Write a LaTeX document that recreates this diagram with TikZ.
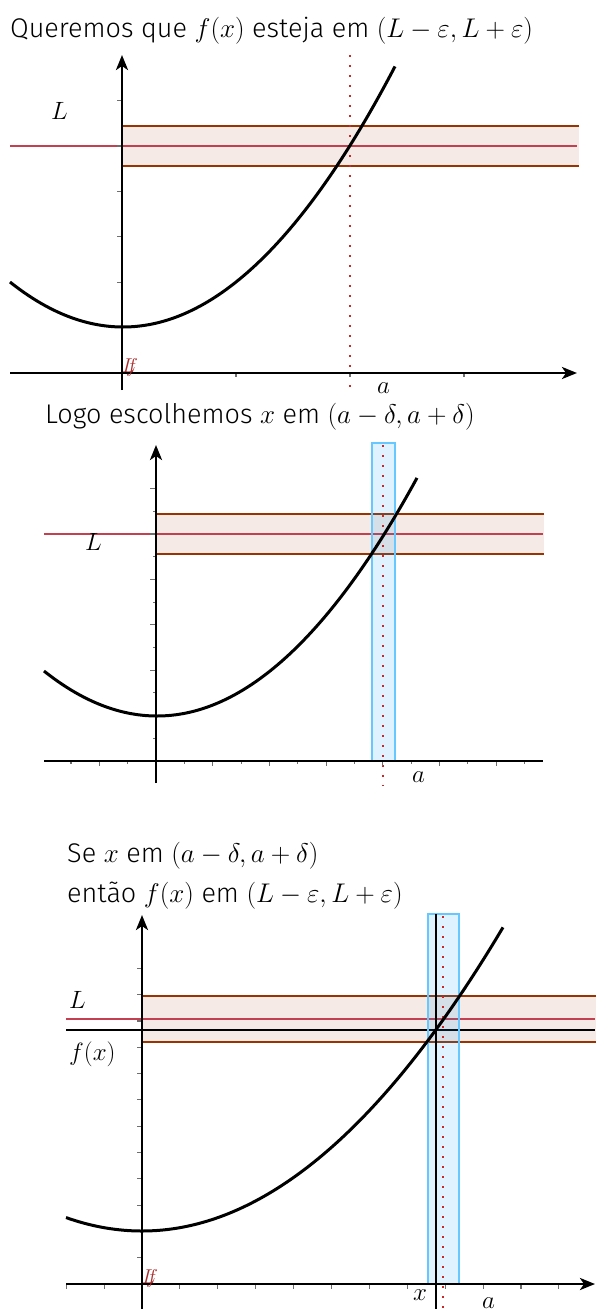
\RequirePackage{fix-cm}
\documentclass[tikz,border=0pt]{standalone}
\usepackage[no-math]{fontspec}
\setmainfont{Fira Sans}[UprightFont={* Light}]
\usetikzlibrary{arrows.meta}
\definecolor{bandc}{RGB}{153,51,0}
\definecolor{redl}{RGB}{196,64,80}
\definecolor{bluef}{RGB}{0,153,255}
\definecolor{blueb}{RGB}{102,200,255}
\definecolor{dotc}{RGB}{200,40,40}
\definecolor{origc}{RGB}{170,45,45}
\definecolor{tickc}{RGB}{110,110,110}
\begin{document}
\begin{tikzpicture}[x=1pt,y=-1pt,
  axisline/.style={line width=2.8pt, black},
  axisarrow/.style={axisline, -{Stealth[length=15pt,width=12pt,inset=4pt]}},
  curve/.style={line width=3pt, black},
  bandfill/.style={fill=bandc, fill opacity=0.1},
  bandline/.style={draw=bandc, line width=2pt},
  lline/.style={draw=redl, line width=1.6pt},
  strip/.style={fill=bluef, fill opacity=0.13, draw=blueb, line width=2pt},
  dots/.style={draw=dotc, line width=1.8pt, dash pattern=on 1.8pt off 8.2pt},
  tk/.style={line width=1.1pt, tickc},
  lab/.style={font=\fontsize{25}{29}\selectfont, inner sep=0pt, anchor=base west},
  ttl/.style={font=\fontsize{27}{31}\selectfont, inner sep=0pt, anchor=base west},
  orig/.style={text=origc, font=\fontsize{20}{24}\selectfont, inner sep=0pt, anchor=base west}]
\useasboundingbox (0,0) rectangle (595,1309);

% ---------------- Panel 1 ----------------
\node[ttl] (t1) at (10,37) {Queremos que $f(x)$ esteja em $(L-\varepsilon,L+\varepsilon)$};
\fill[bandfill] (122,126) rectangle (579,166);
\draw[bandline] (579,126) -- (122,126) -- (122,166) -- (579,166);
\draw[lline] (10,146) -- (577,146);
\draw[dots] (350,55) -- (350,390);
\foreach \k in {1,...,6} \draw[tk] (117,{373-45.4*\k}) -- (122,{373-45.4*\k});
\foreach \k in {1,2,3} \draw[tk] ({122+114*\k},373) -- ({122+114*\k},377);
\draw[axisarrow] (10,373) -- (577,373);
\draw[axisarrow] (122,390) -- (122,55);
\draw[curve] plot[domain=10:395,samples=100] (\x,{327-35.22*((\x-123)/100)^2});
\node[lab] (L1) at (51,119) {$L$};
\node[lab] (a1) at (377,393) {$a$};
\node[orig] (f1o) at (126,372) {$f$};
\node[orig] (L1o) at (122,372) {$L$};

% ---------------- Panel 2 ----------------
\node[ttl] (t2) at (45,423) {Logo escolhemos $x$ em $(a-\delta,a+\delta)$};
\fill[bandfill] (156,514) rectangle (544,554);
\draw[bandline] (544,514) -- (156,514) -- (156,554) -- (544,554);
\draw[lline] (44,534) -- (543,534);
\draw[strip] (372,443) rectangle (395,761);
\draw[dots] (383,445) -- (383,786);
\foreach \k in {1,...,12} {
  \pgfmathsetmacro{\tl}{ifthenelse(mod(\k,2)==0,6,3)}
  \draw[tk] ({156-\tl},{761-22.7*\k}) -- (156,{761-22.7*\k});
}
\foreach \k in {-3,-2,-1,1,2,...,13} {
  \pgfmathsetmacro{\tl}{ifthenelse(mod(abs(\k),2)==0,5,3)}
  \draw[tk] ({156+28.35*\k},761) -- ({156+28.35*\k},{761+\tl});
}
\draw[axisline] (44,761) -- (543,761);
\draw[axisarrow] (156,783) -- (156,445);
\draw[curve] plot[domain=44:417,samples=100] (\x,{716-35.22*((\x-157)/100)^2});
\node[lab] (L2) at (85,550) {$L$};
\node[lab] (a2) at (412,782) {$a$};

% ---------------- Panel 3 ----------------
\node[ttl] (t3a) at (67,862) {Se $x$ em $(a-\delta,a+\delta)$};
\node[ttl] (t3b) at (67,902) {então $f(x)$ em $(L-\varepsilon,L+\varepsilon)$};
\fill[bandfill] (142,996) rectangle (600,1042);
\draw[bandline] (600,996) -- (142,996) -- (142,1042) -- (600,1042);
\draw[lline] (66,1019) -- (595,1019);
\draw[line width=1.6pt, black] (66,1030) -- (595,1030);
\draw[strip] (428,914) rectangle (459,1284);
\draw[dots] (443,916) -- (443,1309);
\draw[line width=1.6pt, black] (436,914) -- (436,1309);
\foreach \k in {1,...,12} \draw[tk] (137,{1284-26.3*\k}) -- (142,{1284-26.3*\k});
\foreach \k in {-2,-1,1,2,...,11} \draw[tk] ({142+37.9*\k},1284) -- ({142+37.9*\k},1289);
\draw[axisarrow] (66,1284) -- (595,1284);
\draw[axisarrow] (142,1309) -- (142,915);
\draw[curve] plot[domain=66:503,samples=100] (\x,{1231-23.3*((\x-142)/100)^2});
\node[lab] (L3) at (69,1008) {$L$};
\node[lab] (fx3) at (69,1060) {$f(x)$};
\node[lab] (x3) at (413,1300) {$x$};
\node[lab] (a3) at (482,1308) {$a$};
\node[orig] (f3o) at (146,1283) {$f$};
\node[orig] (L3o) at (142,1283) {$L$};
\end{tikzpicture}
\end{document}
